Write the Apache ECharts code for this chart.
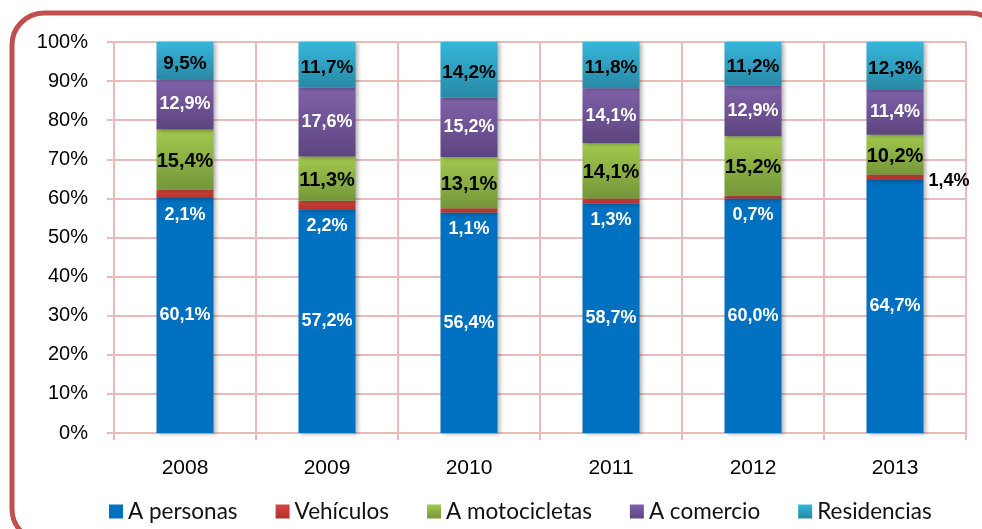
<!DOCTYPE html>
<html>
<head>
<meta charset="utf-8">
<script src="https://cdn.jsdelivr.net/npm/echarts@6/dist/echarts.min.js"></script>
<style>html,body{margin:0;padding:0;background:#fff;}#c{width:982px;height:529px;}</style>
</head>
<body>
<div id="c"></div>
<script>
var years = ['2008', '2009', '2010', '2011', '2012', '2013'];
var personas = [60.1, 57.2, 56.4, 58.7, 60.0, 64.7];
var vehiculos = [2.1, 2.2, 1.1, 1.3, 0.7, 1.4];
var motocicletas = [15.4, 11.3, 13.1, 14.1, 15.2, 10.2];
var comercio = [12.9, 17.6, 15.2, 14.1, 12.9, 11.4];
var residencias = [9.5, 11.7, 14.2, 11.8, 11.2, 12.3];
var seriesNames = ['A personas', 'Vehículos', 'A motocicletas', 'A comercio', 'Residencias'];

var NARROW = '"Liberation Sans", Arial, sans-serif';
var PINK = '#e9bcbb';

function grad(a, b) {
  return new echarts.graphic.LinearGradient(0, 0, 0, 1, [{offset: 0, color: a}, {offset: 1, color: b}]);
}
function fmt(p) { return p.value.toFixed(1).replace('.', ',') + '%'; }

var shadow = {shadowBlur: 4, shadowOffsetX: 2, shadowOffsetY: 1, shadowColor: 'rgba(0,0,0,0.3)'};
function ist(color) { return Object.assign({color: color}, shadow); }

var chart = echarts.init(document.getElementById('c'));
chart.setOption({
  animation: false,
  graphic: [{
    type: 'rect', z: -10,
    shape: {x: 12, y: 13, width: 990, height: 528, r: 32},
    style: {fill: 'none', stroke: '#c0504d', lineWidth: 5}
  }],
  grid: {left: 114, right: 16, top: 42, bottom: 96},
  legend: {
    bottom: 1, left: 104,
    itemWidth: 14, itemHeight: 14, itemGap: 38,
    icon: 'rect',
    textStyle: {fontFamily: 'Lato, "Noto Sans", sans-serif', fontSize: 22.5, color: '#111'},
    data: seriesNames
  },
  xAxis: {
    type: 'category', data: years,
    axisLine: {show: true, lineStyle: {color: PINK, width: 2}},
    axisTick: {show: true, length: 7, interval: 0, lineStyle: {color: PINK, width: 2}},
    splitLine: {show: true, interval: 0, lineStyle: {color: PINK, width: 2}},
    axisLabel: {margin: 25, fontFamily: NARROW, fontSize: 21, color: '#000'}
  },
  yAxis: {
    type: 'value', min: 0, max: 100, interval: 10,
    axisLine: {show: true, lineStyle: {color: PINK, width: 2}},
    axisTick: {show: true, length: 7, lineStyle: {color: PINK, width: 2}},
    splitLine: {show: true, lineStyle: {color: PINK, width: 2}},
    axisLabel: {margin: 26, fontFamily: NARROW, fontSize: 20, color: '#000', formatter: '{value}%'}
  },
  series: [
    {
      name: seriesNames[0], type: 'bar', stack: 'a', barWidth: 57, data: personas,
      itemStyle: ist('#0070c0'),
      label: {show: true, position: 'inside', formatter: fmt, color: '#fff', fontWeight: 'bold', fontFamily: NARROW, fontSize: 18}
    },
    {
      name: seriesNames[1], type: 'bar', stack: 'a', barWidth: 57,
      data: vehiculos.map(function (v, i) {
        if (i === 5) {
          return {value: v, label: {position: 'right', distance: 5, offset: [0, 4], color: '#000', fontSize: 18}};
        }
        return v;
      }),
      itemStyle: ist(grad('#d5473f', '#b3302c')),
      label: {show: true, position: 'bottom', distance: 8, formatter: fmt, color: '#fff', fontWeight: 'bold', fontFamily: NARROW, fontSize: 18}
    },
    {
      name: seriesNames[2], type: 'bar', stack: 'a', barWidth: 57, data: motocicletas,
      itemStyle: ist(grad('#a2c94e', '#74963a')),
      label: {show: true, position: 'inside', offset: [0, 2], formatter: fmt, color: '#000', fontWeight: 'bold', fontFamily: NARROW, fontSize: 20}
    },
    {
      name: seriesNames[3], type: 'bar', stack: 'a', barWidth: 57, data: comercio,
      itemStyle: ist(grad('#8061a9', '#5c457f')),
      label: {show: true, position: 'inside', formatter: fmt, color: '#fff', fontWeight: 'bold', fontFamily: NARROW, fontSize: 18}
    },
    {
      name: seriesNames[4], type: 'bar', stack: 'a', barWidth: 57, data: residencias,
      itemStyle: ist(grad('#36b6da', '#2889a6')),
      label: {show: true, position: 'inside', offset: [0, 3], formatter: fmt, color: '#000', fontWeight: 'bold', fontFamily: NARROW, fontSize: 19}
    }
  ]
});
</script>
</body>
</html>
